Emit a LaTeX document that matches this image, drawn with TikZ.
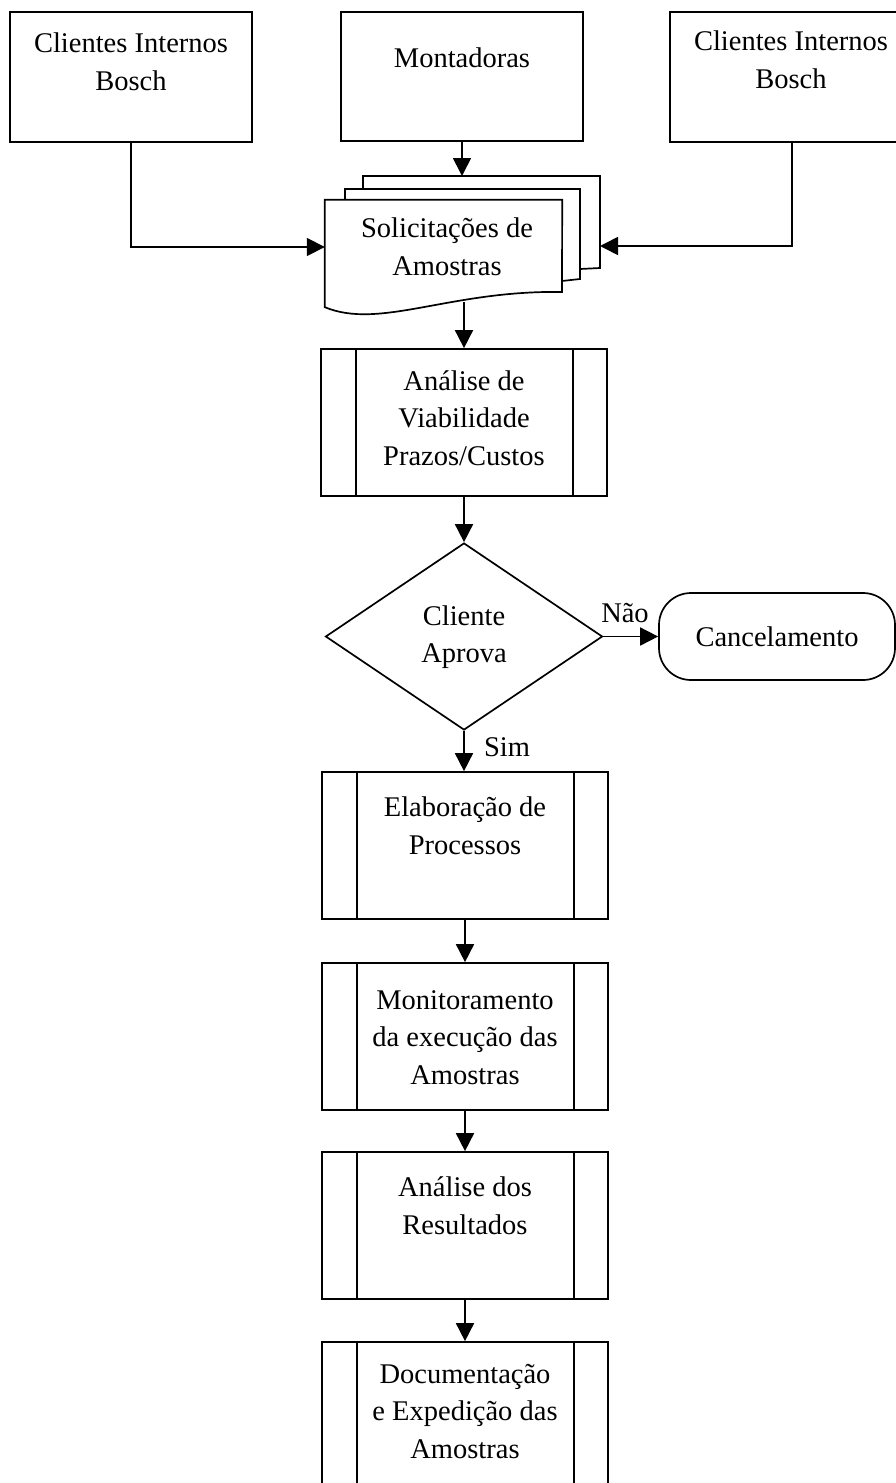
\documentclass[tikz,border=0pt]{standalone}
\usepackage{fontspec}
\setmainfont{Liberation Serif}
\usetikzlibrary{arrows.meta,shapes.geometric}
\begin{document}
\begin{tikzpicture}[x=1pt,y=-1pt,
  every node/.style={font=\fontsize{28.5}{37.5}\selectfont},
  ln/.style={line width=1.7pt},
  arr/.style={ln,-{Triangle[length=18pt,width=18pt]}},
  box/.style={draw,ln,rectangle,inner sep=0pt},
  proc/.style={box,minimum width=286pt,minimum height=147pt,
    path picture={\draw[line width=1.7pt]
      ([xshift=35pt]path picture bounding box.north west) -- ([xshift=35pt]path picture bounding box.south west)
      ([xshift=-34pt]path picture bounding box.north east) -- ([xshift=-34pt]path picture bounding box.south east);}},
  txt/.style={align=center,inner sep=0pt},
]
\useasboundingbox (0,0) rectangle (896,1483);
\clip (0,0) rectangle (896,1483);

% top sources
\node[box,minimum width=242pt,minimum height=130pt] (cl) at (131,77) {};
\node[box,minimum width=242pt,minimum height=129pt] (mo) at (462,76.5) {};
\node[box,minimum width=244pt,minimum height=130pt] (cr) at (792,77) {};
\node[txt] (cl-t) at (131,64) {\strut Clientes Internos\\Bosch\strut};
\node[txt] (mo-t) at (462,58) {Montadoras};
\node[txt] (cr-t) at (791,62) {\strut Clientes Internos\\Bosch\strut};

% multi-document
\draw[ln] (363,189) -- (363,176) -- (600,176) -- (600,268) -- (580,269);
\draw[ln] (345,200) -- (345,189) -- (580,189) -- (580,279) -- (562,281);
\node[inner sep=0pt,minimum width=237pt,minimum height=107pt] (sol) at (443.5,253.5) {};
\draw[ln,fill=white] (sol.south west) -- (sol.north west) -- (sol.north east) -- (562,292)
  .. controls (450,290) and (380,330) .. cycle;
\node[txt] (sol-t) at (447,249) {\strut Solicitações de\\Amostras\strut};

\coordinate (backtop) at (462,176);
\coordinate (backR) at (600,246);
\coordinate (solb) at (464,302);
\draw[arr] (mo.south) -- (backtop);
\draw[arr] (cl.south) |- ([yshift=6.5pt]sol.west);
\draw[arr] (cr.south) |- (backR);

% process chain
\node[proc] (an1) at (464,422.5) {};
\node[txt] (an1-t) at (464,420) {\strut Análise de\\Viabilidade\\Prazos/Custos\strut};
\draw[arr] (solb) -- (an1.north);

\node[draw,ln,diamond,minimum width=277pt,minimum height=187pt,inner sep=0pt,align=center] (dia) at (464,636.5) {\strut Cliente\\Aprova\strut};
\draw[arr] (an1.south) -- (dia.north);

\node[draw,ln,rounded corners=32pt,minimum width=236pt,minimum height=87pt,inner sep=0pt] (canc) at (777,636.5) {Cancelamento};
\draw[arr] (dia.east) -- (canc.west);
\node (nao) at (625,613) {Não};

\node[proc] (el) at (465,845.5) {};
\node[txt] (el-t) at (465,828) {\strut Elaboração de\\Processos\strut};
\draw[arr] (dia.south) -- (dia.south |- el.north);
\node (sim) at (507,747) {Sim};

\node[proc] (mon) at (465,1036.5) {};
\node[txt] (mon-t) at (465,1039) {\strut Monitoramento\\da execução das\\Amostras\strut};
\draw[arr] (el.south) -- (mon.north);

\node[proc] (res) at (465,1225.5) {};
\node[txt] (res-t) at (465,1208) {\strut Análise dos\\Resultados\strut};
\draw[arr] (mon.south) -- (res.north);

\node[proc] (doc) at (465,1415.5) {};
\node[txt] (doc-t) at (465,1413) {\strut Documentação\\e Expedição das\\Amostras\strut};
\draw[arr] (res.south) -- (doc.north);
\end{tikzpicture}
\end{document}
